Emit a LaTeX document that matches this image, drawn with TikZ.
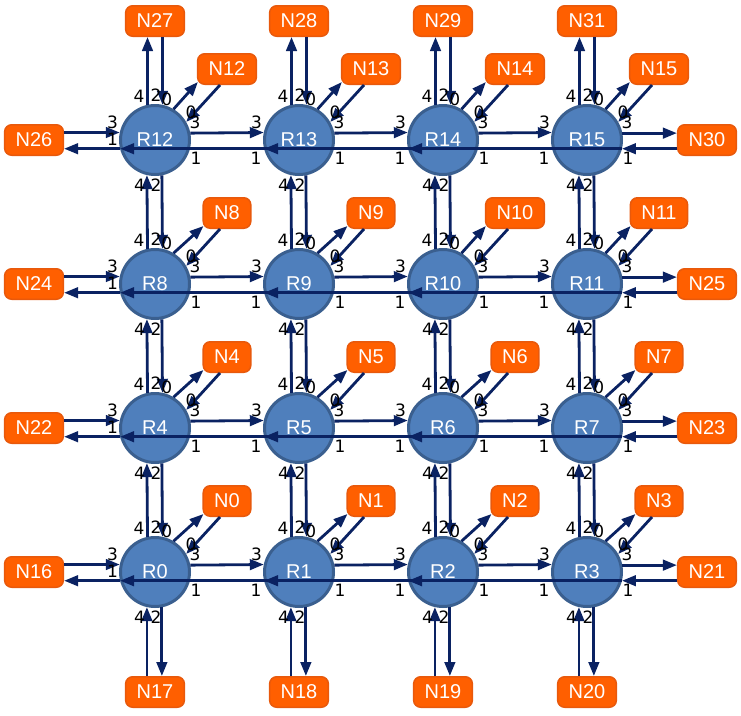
\documentclass[tikz,border=0pt]{standalone}
\usepackage{fontspec}
\setmainfont{Liberation Sans}
\newfontfamily\portfont{DejaVu Sans}
\usetikzlibrary{arrows.meta,calc}
\definecolor{edgeblue}{HTML}{0A2262}
\definecolor{routerfill}{HTML}{4F7FBC}
\definecolor{routerline}{HTML}{3A5F8F}
\definecolor{nicfill}{HTML}{FF5F00}
\definecolor{nicline}{HTML}{E8590C}

\tikzset{
  router/.style={circle, fill=routerfill, draw=routerline, line width=3pt,
    minimum size=69pt, inner sep=0pt, text=white, font=\fontsize{20}{20}\selectfont},
  nic/.style={rectangle, rounded corners=7pt, fill=nicfill, draw=nicline, line width=1.5pt,
    minimum height=30.5pt, inner xsep=11pt, inner ysep=0pt, text=white,
    font=\fontsize{20}{20}\selectfont},
  link/.style={draw=edgeblue, line width=2.8pt, -{Triangle[length=14pt,width=10.5pt]}},
  port/.style={font=\portfont\fontsize{17}{17}\selectfont, inner sep=0pt, text=black},
}

\begin{document}
\begin{tikzpicture}[x=1pt, y=-1pt]
\useasboundingbox (0,0) rectangle (741,715);

% routers and their local network interfaces
\foreach \r in {0,...,15}{
  \pgfmathtruncatemacro\col{mod(\r,4)}
  \pgfmathtruncatemacro\row{int(\r/4)}
  \node[router] (R\r) at ({155+144*\col},{572-144*\row}) {R\r};
  \node[nic] (N\r) at ({227+144*\col},{501-144*\row}) {N\r};
}

% interfaces on the mesh boundary
\node[nic] (N27) at (155,21) {N27};
\node[nic] (N28) at (299,21) {N28};
\node[nic] (N29) at (443,21) {N29};
\node[nic] (N31) at (587,21) {N31};
\node[nic] (N17) at (155,692) {N17};
\node[nic] (N18) at (299,692) {N18};
\node[nic] (N19) at (443,692) {N19};
\node[nic] (N20) at (587,692) {N20};
\node[nic] (N26) at (34,140) {N26};
\node[nic] (N24) at (34,284) {N24};
\node[nic] (N22) at (34,428) {N22};
\node[nic] (N16) at (34,572) {N16};
\node[nic] (N30) at (707,140) {N30};
\node[nic] (N25) at (707,284) {N25};
\node[nic] (N23) at (707,428) {N23};
\node[nic] (N21) at (707,572) {N21};

% horizontal router links
\foreach \a/\b in {0/1,1/2,2/3,4/5,5/6,6/7,8/9,9/10,10/11,12/13,13/14,14/15}{
  \draw[link] (R\a.11.2) -- (R\b.168.8);
  \draw[link] (R\b.-14.5) -- (R\a.194.5);
}

% vertical router links
\foreach \a in {0,...,11}{
  \pgfmathtruncatemacro\b{\a+4}
  \draw[link] (R\a.102.8) -- (R\b.257.2);
  \draw[link] (R\b.281.2) -- (R\a.78.8);
}

% local links
\foreach \r in {0,...,15}{
  \draw[link] (R\r.59) -- ($(N\r.south west)+(1,-3)$);
  \draw[link] ($(N\r.south)+(-7,0)$) -- (R\r.30);
}

% west boundary
\foreach \r/\n in {12/26,8/24,4/22,0/16}{
  \draw[link] (N\n.east |- R\r.168.8) -- (R\r.168.8);
  \draw[link] (R\r.194.5) -- (N\n.east |- R\r.194.5);
}
% east boundary
\foreach \r/\n in {15/30,11/25,7/23,3/21}{
  \draw[link] (R\r.11.2) -- (N\n.west |- R\r.11.2);
  \draw[link] (N\n.west |- R\r.-14.5) -- (R\r.-14.5);
}
% north boundary
\foreach \r/\n in {12/27,13/28,14/29,15/31}{
  \draw[link] (R\r.102.8) -- (R\r.102.8 |- N\n.south);
  \draw[link] (R\r.78.8 |- N\n.south) -- (R\r.78.8);
}
% south boundary
\foreach \r/\n in {0/17,1/18,2/19,3/20}{
  \draw[link] (R\r.257.2 |- N\n.north) -- (R\r.257.2);
  \draw[link] (R\r.281.2) -- (R\r.281.2 |- N\n.north);
}

% port numbers
\foreach \r in {0,...,15}{
  \pgfmathtruncatemacro\col{mod(\r,4)}
  \node[port] (pt4-\r) at ($(R\r)+(-16,-44)$) {4};
  \node[port] (pt2-\r) at ($(R\r)+(1,-44.5)$) {2};
  \node[port] (pt0-\r) at ($(R\r)+(11.7,-41)$) {0};
  \node[port] (pd0-\r) at ($(R\r)+(36,-28)$) {0};
  \node[port] (pr3-\r) at ($(R\r)+(40,-17.5)$) {3};
  \node[port] (pr1-\r) at ($(R\r)+(41,18)$) {1};
  \node[port] (pl3-\r) at ($(R\r)+(-42.5,-17.5)$) {3};
  \ifnum\col=0
    \node[port] (pl1-\r) at ($(R\r)+(-42.5,-0.5)$) {1};
  \else
    \node[port] (pl1-\r) at ($(R\r)+(-43,18)$) {1};
  \fi
  \node[port] (pb4-\r) at ($(R\r)+(-15.5,45)$) {4};
  \node[port] (pb2-\r) at ($(R\r)+(1,45)$) {2};
}
\end{tikzpicture}
\end{document}
